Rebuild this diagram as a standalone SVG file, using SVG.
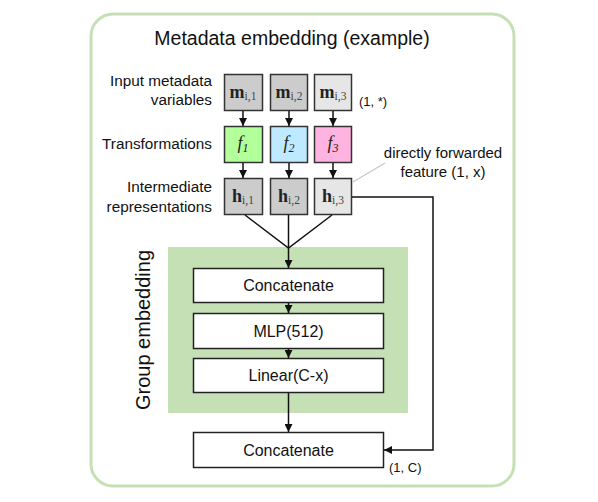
<svg xmlns="http://www.w3.org/2000/svg" width="598" height="502" viewBox="0 0 598 502">
<defs>
<style>
.lbl{font-family:"Liberation Sans",Arial,sans-serif;fill:#111}
.box{stroke:#333;stroke-width:1.5}
.blk{fill:#fff;stroke:#222;stroke-width:1.5}
.ln{fill:none;stroke:#111;stroke-width:1.5}
.math{font-family:"Liberation Serif","DejaVu Serif",serif;fill:#222}
.sub{fill:#444}
</style>
<marker id="ah" viewBox="0 0 10 10" refX="10" refY="5" markerWidth="8" markerHeight="8" markerUnits="userSpaceOnUse" orient="auto">
<path d="M0,0 L10,5 L0,10 z" fill="#111"/>
</marker>
</defs>
<rect x="0" y="0" width="598" height="502" fill="#fff"/>
<rect id="outer" x="91" y="14" width="423" height="472" rx="22" fill="#fff" stroke="#c5e0b4" stroke-width="3"/>
<text class="lbl" x="292" y="45" font-size="19.5" text-anchor="middle">Metadata embedding (example)</text>

<g id="labels">
<text class="lbl" x="212" y="86" font-size="15.3" text-anchor="end">Input metadata</text>
<text class="lbl" x="212" y="105" font-size="15.3" text-anchor="end">variables</text>
<text class="lbl" x="212" y="149" font-size="15.3" text-anchor="end">Transformations</text>
<text class="lbl" x="212" y="192" font-size="15.3" text-anchor="end">Intermediate</text>
<text class="lbl" x="212" y="212" font-size="15.3" text-anchor="end">representations</text>
<text class="lbl" x="359" y="106" font-size="13">(1, *)</text>
<text class="lbl" x="443" y="158" font-size="15" text-anchor="middle">directly forwarded</text>
<text class="lbl" x="443" y="177" font-size="15" text-anchor="middle">feature (1, x)</text>
<text class="lbl" x="389" y="472" font-size="13">(1, C)</text>
</g>

<g id="group-embedding">
<rect x="168" y="247" width="240" height="166" fill="#c5e0b4"/>
<text class="lbl" transform="translate(150,330) rotate(-90)" font-size="20" text-anchor="middle">Group embedding</text>
</g>

<g id="m1"><rect class="box" x="224.5" y="74.5" width="38" height="36" fill="#cccccc"/><text class="math" x="243" y="98" text-anchor="middle"><tspan font-weight="bold" font-size="18">m</tspan><tspan class="sub" font-size="11.5" dy="2">i,1</tspan></text></g>
<g id="m2"><rect class="box" x="270.5" y="74.5" width="37" height="36" fill="#cccccc"/><text class="math" x="289" y="98" text-anchor="middle"><tspan font-weight="bold" font-size="18">m</tspan><tspan class="sub" font-size="11.5" dy="2">i,2</tspan></text></g>
<g id="m3"><rect class="box" x="314.5" y="74.5" width="37" height="36" fill="#e6e6e6"/><text class="math" x="333" y="98" text-anchor="middle"><tspan font-weight="bold" font-size="18">m</tspan><tspan class="sub" font-size="11.5" dy="2">i,3</tspan></text></g>

<g id="f1"><rect class="box" x="224.5" y="126.5" width="38" height="36" fill="#b3ff99"/><text class="math" x="243" y="149" text-anchor="middle" font-style="italic"><tspan font-size="18">f</tspan><tspan font-size="12" dy="3">1</tspan></text></g>
<g id="f2"><rect class="box" x="270.5" y="126.5" width="37" height="36" fill="#bfe9ff"/><text class="math" x="289" y="149" text-anchor="middle" font-style="italic"><tspan font-size="18">f</tspan><tspan font-size="12" dy="3">2</tspan></text></g>
<g id="f3"><rect class="box" x="314.5" y="126.5" width="37" height="36" fill="#ffb3e0"/><text class="math" x="333" y="149" text-anchor="middle" font-style="italic"><tspan font-size="18">f</tspan><tspan font-size="12" dy="3">3</tspan></text></g>

<g id="h1"><rect class="box" x="224.5" y="178.5" width="38" height="36" fill="#cccccc"/><text class="math" x="243" y="202" text-anchor="middle"><tspan font-weight="bold" font-size="18">h</tspan><tspan class="sub" font-size="11.5" dy="2">i,1</tspan></text></g>
<g id="h2"><rect class="box" x="270.5" y="178.5" width="37" height="36" fill="#cccccc"/><text class="math" x="289" y="202" text-anchor="middle"><tspan font-weight="bold" font-size="18">h</tspan><tspan class="sub" font-size="11.5" dy="2">i,2</tspan></text></g>
<g id="h3"><rect class="box" x="314.5" y="178.5" width="37" height="36" fill="#e6e6e6"/><text class="math" x="333" y="202" text-anchor="middle"><tspan font-weight="bold" font-size="18">h</tspan><tspan class="sub" font-size="11.5" dy="2">i,3</tspan></text></g>

<g id="concat1"><rect class="blk" x="193.5" y="268.5" width="190" height="34"/><text class="lbl" x="288.5" y="291" font-size="16" text-anchor="middle">Concatenate</text></g>
<g id="mlp"><rect class="blk" x="193.5" y="313.5" width="190" height="35"/><text class="lbl" x="288.5" y="337" font-size="16" text-anchor="middle">MLP(512)</text></g>
<g id="linear"><rect class="blk" x="193.5" y="358.5" width="190" height="34"/><text class="lbl" x="288.5" y="381" font-size="16" text-anchor="middle">Linear(C-x)</text></g>
<g id="concat2"><rect class="blk" x="193.5" y="432.5" width="190" height="35"/><text class="lbl" x="288.5" y="456" font-size="16" text-anchor="middle">Concatenate</text></g>

<g id="connectors">
<line class="ln" x1="243" y1="111" x2="243" y2="126" marker-end="url(#ah)"/>
<line class="ln" x1="289" y1="111" x2="289" y2="126" marker-end="url(#ah)"/>
<line class="ln" x1="333" y1="111" x2="333" y2="126" marker-end="url(#ah)"/>
<line class="ln" x1="243" y1="163" x2="243" y2="178" marker-end="url(#ah)"/>
<line class="ln" x1="289" y1="163" x2="289" y2="178" marker-end="url(#ah)"/>
<line class="ln" x1="333" y1="163" x2="333" y2="178" marker-end="url(#ah)"/>
<polyline class="ln" points="245,215 288.5,248 332,215"/>
<line class="ln" x1="288.5" y1="215" x2="288.5" y2="248"/>
<line class="ln" x1="288.5" y1="248" x2="288.5" y2="268" marker-end="url(#ah)"/>
<line class="ln" x1="288.5" y1="303" x2="288.5" y2="313" marker-end="url(#ah)"/>
<line class="ln" x1="288.5" y1="349" x2="288.5" y2="358" marker-end="url(#ah)"/>
<line class="ln" x1="288.5" y1="393" x2="288.5" y2="432" marker-end="url(#ah)"/>
<polyline class="ln" points="352,197 433,197 433,450 384,450" marker-end="url(#ah)"/>
<line x1="353" y1="182" x2="385" y2="163" stroke="#c8c8c8" stroke-width="1.2"/>
</g>
</svg>
